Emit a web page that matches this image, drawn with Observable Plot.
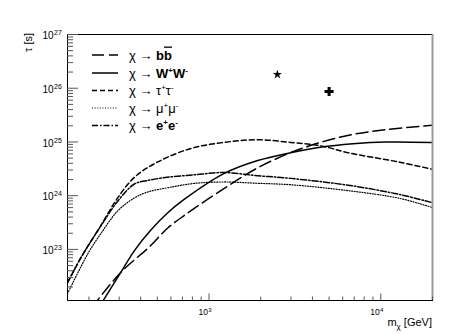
<!DOCTYPE html>
<html><head><meta charset="utf-8">
<script src="https://cdn.jsdelivr.net/npm/d3@7"></script>
<script src="https://cdn.jsdelivr.net/npm/@observablehq/plot@0.6"></script>
<style>
body{margin:0;background:#fff;}
svg{font-family:"Liberation Sans", Arial, Helvetica, sans-serif;}
</style></head><body><div id="chart"></div>
<script>
// ---- data (m_chi in GeV, lifetime tau in s) ----
const massBB = [208, 306, 450, 571, 716, 1220, 1920, 2980, 4440, 6890, 10800, 20000];
const lifeBB = [8.3e21, 3.72e22, 1.12e23, 2.45e23, 4.27e23, 1.35e24, 3.3e24, 6.3e24, 9.8e24, 1.38e25, 1.7e25, 2.04e25];

const massWW = [228, 306, 368, 456, 571, 716, 1220, 1920, 2980, 4440, 6890, 10800, 20000];
const lifeWW = [8.2e21, 3.7e22, 9.5e22, 2.24e23, 4.7e23, 8.5e23, 2.57e24, 4.5e24, 6.3e24, 8.0e24, 9.3e24, 1.0e25, 9.8e24];

const massTT = [150, 180, 234, 294, 368, 500, 787, 1220, 1920, 2980, 4440, 6620, 12900, 20000];
const lifeTT = [2.4e22, 7.1e22, 2.75e23, 9.1e23, 2.2e24, 4.2e24, 7.6e24, 9.8e24, 1.1e25, 9.8e24, 8.5e24, 6.2e24, 4.2e24, 3.1e24];

const massMM = [150, 197, 234, 294, 368, 432, 571, 830, 1220, 1920, 2980, 6620, 12900, 20000];
const lifeMM = [1.5e22, 8.3e22, 1.95e23, 5.2e23, 9.1e23, 1.15e24, 1.4e24, 1.7e24, 1.8e24, 1.7e24, 1.6e24, 1.23e24, 8.9e23, 6.0e23];

const massEE = [150, 180, 234, 294, 368, 432, 571, 830, 1220, 1920, 2980, 6620, 12900, 20000];
const lifeEE = [2.4e22, 7.1e22, 2.7e23, 7.9e23, 1.65e24, 1.9e24, 2.2e24, 2.45e24, 2.7e24, 2.35e24, 2.1e24, 1.55e24, 1.05e24, 7.4e23];

const markerMass = [2500, 5000];
const markerLife = [1.8e26, 8.7e25];
const markerSymbol = ["star", "cross"];

const xMajor = [1e3, 1e4];
const xTickBase = ["10", "10"];
const xTickExp = ["3", "4"];
const yMajor = [1e23, 1e24, 1e25, 1e26, 1e27];
const yTickBase = ["10", "10", "10", "10", "10"];
const yTickExp = ["23", "24", "25", "26", "27"];
const xMinor = [200,300,400,500,600,700,800,900,2000,3000,4000,5000,6000,7000,8000,9000,20000];
const yMinor = [];
for (let e = 22; e <= 26; e++) for (let k = 2; k <= 9; k++) yMinor.push(k * Math.pow(10, e));

const series = [
  {mass: massBB, life: lifeBB, dash: "12,5", w: 1.5},
  {mass: massWW, life: lifeWW, dash: null, w: 1.5},
  {mass: massTT, life: lifeTT, dash: "5,3", w: 1.5},
  {mass: massMM, life: lifeMM, dash: "1,1.6", w: 1.2},
  {mass: massEE, life: lifeEE, dash: "6,2,1.5,2", w: 1.5}
];

const toRows = s => s.mass.map((m, i) => ({m, t: s.life[i]}));
const ticksColor = "#555";

const chart = Plot.plot({
  width: 457, height: 334,
  marginLeft: 67, marginRight: 25, marginTop: 34, marginBottom: 34,
  x: {type: "log", domain: [150, 20000], axis: null},
  y: {type: "log", domain: [1.12e22, 1e27], axis: null},
  marks: [
    ...series.map(s => Plot.line(toRows(s), {
      x: "m", y: "t", curve: "catmull-rom", stroke: "black", strokeWidth: s.w,
      strokeDasharray: s.dash, clip: true
    })),
    Plot.dot([0], {x: () => markerMass[0], y: () => markerLife[0], symbol: markerSymbol[0], r: 2.9, fill: "black", stroke: "none"}),
    Plot.dot([1], {x: () => markerMass[1], y: () => markerLife[1], symbol: markerSymbol[1], r: 3.8, fill: "black", stroke: "none"}),
    Plot.frame({stroke: "black"}),
    Plot.ruleX([20000], {stroke: "#999", strokeWidth: 2}),
    Plot.axisY(yMajor, {anchor: "left", tickSize: -11, tickFormat: () => "", stroke: ticksColor, label: null}),
    Plot.axisY(yMinor, {anchor: "left", tickSize: -6, tickFormat: () => "", stroke: ticksColor, label: null}),
    Plot.axisX(xMajor, {anchor: "bottom", tickSize: -6.5, tickFormat: () => "", stroke: ticksColor, label: null}),
    Plot.axisX(xMinor, {anchor: "bottom", tickSize: -3.5, tickFormat: () => "", stroke: ticksColor, label: null}),
    Plot.text(yMajor, {y: d => d, frameAnchor: "left", text: (d, i) => yTickBase[i], dx: -14, dy: 1.5, textAnchor: "end", fontSize: 10}),
    Plot.text(yMajor, {y: d => d, frameAnchor: "left", text: (d, i) => yTickExp[i], dx: -13.5, dy: -1.5, textAnchor: "start", fontSize: 7}),
    Plot.text(xMajor, {x: d => d, frameAnchor: "bottom", text: (d, i) => xTickBase[i], dx: -1, dy: 14.7, textAnchor: "end", fontSize: 8.5}),
    Plot.text(xMajor, {x: d => d, frameAnchor: "bottom", text: (d, i) => xTickExp[i], dx: -0.8, dy: 11, textAnchor: "start", fontSize: 6})
  ]
});
document.getElementById("chart").appendChild(chart);

// ---- titles and legend (rich text) ----
const svg = d3.select(chart);
svg.append("text").attr("transform", "translate(28,33) rotate(-90)")
  .attr("text-anchor", "end").attr("dy", "0.35em").attr("font-size", 11).attr("fill", "black")
  .text("τ [s]");

const xt = svg.append("text").attr("x", 432).attr("y", 326).attr("text-anchor", "end")
  .attr("font-size", 11).attr("fill", "black");
xt.append("tspan").text("m");
xt.append("tspan").attr("font-size", 8).attr("dy", 3).text("χ");
xt.append("tspan").attr("dy", -3).text(" [GeV]");

const legendRows = [
  [{t: "χ → "}, {t: "b", b: 1}, {t: "b", b: 1, o: 1}],
  [{t: "χ → "}, {t: "W", b: 1}, {t: "+", b: 1, s: 1}, {t: "W", b: 1}, {t: "-", b: 1, s: 1}],
  [{t: "χ → τ"}, {t: "+", s: 1}, {t: "τ"}, {t: "-", s: 1}],
  [{t: "χ → μ"}, {t: "+", s: 1}, {t: "μ"}, {t: "-", s: 1}],
  [{t: "χ → "}, {t: "e", b: 1}, {t: "+", b: 1, s: 1}, {t: "e", b: 1}, {t: "-", b: 1, s: 1}]
];
const legendY = [55, 73, 90.5, 108, 125.5];
legendRows.forEach((parts, i) => {
  const y = legendY[i];
  const ln = svg.append("line").attr("x1", 92).attr("x2", 118).attr("y1", y).attr("y2", y)
    .attr("stroke", "black").attr("stroke-width", series[i].w);
  if (series[i].dash) ln.attr("stroke-dasharray", series[i].dash);
  const tx = svg.append("text").attr("x", 129).attr("y", y + 4.5).attr("font-size", 13)
    .attr("text-anchor", "start").attr("fill", "black");
  let raised = false;
  parts.forEach(p => {
    const ts = tx.append("tspan").text(p.t);
    if (p.b) ts.attr("font-weight", "bold");
    if (p.o) ts.style("text-decoration", "overline");
    if (p.s && !raised) { ts.attr("dy", -5).attr("font-size", 8); raised = true; }
    else if (p.s) { ts.attr("font-size", 8); }
    else if (raised) { ts.attr("dy", 5); raised = false; }
  });
});
</script></body></html>
